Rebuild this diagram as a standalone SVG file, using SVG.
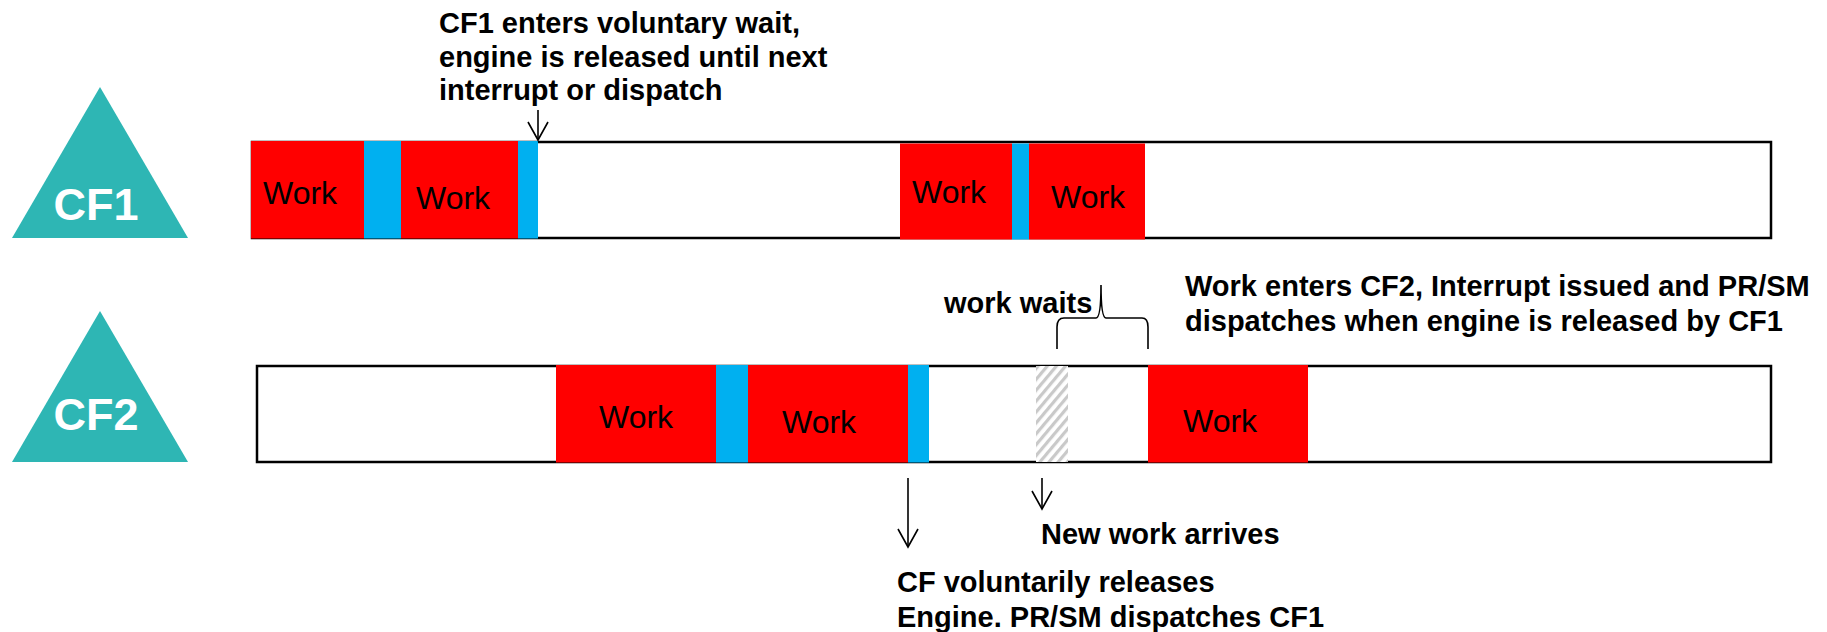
<svg xmlns="http://www.w3.org/2000/svg" width="1827" height="632" viewBox="0 0 1827 632">
  <style>
    .tri { fill: #2EB6B4; }
    .tri-label { font-family: "Liberation Sans", Arial, sans-serif; font-weight: bold; font-size: 45px; fill: #FFFFFF; text-anchor: middle; }
    .bar { fill: #FFFFFF; stroke: #000000; stroke-width: 2.5; }
    .work { fill: #FF0000; }
    .sys { fill: #00B0F0; }
    .wait { fill: url(#hatch); }
    .work-label { font-family: "Liberation Sans", Arial, sans-serif; font-size: 32px; fill: #000000; }
    .note { font-family: "Liberation Sans", Arial, sans-serif; font-weight: bold; font-size: 29px; fill: #000000; }
    .conn { fill: none; stroke: #000000; stroke-width: 1.6; }
    .arrow { marker-end: url(#vhead); }
  </style>
  <defs>
    <pattern id="hatch" patternUnits="userSpaceOnUse" width="7" height="7" patternTransform="rotate(40)">
      <rect x="0" y="0" width="7" height="7" fill="#FFFFFF"/>
      <rect x="0" y="0" width="3.2" height="7" fill="#C9C9C9"/>
    </pattern>
    <marker id="vhead" markerUnits="userSpaceOnUse" markerWidth="24" markerHeight="24" refX="0" refY="0" orient="auto" overflow="visible">
      <path d="M-18,-10 L0,0 L-18,10" fill="none" stroke="#000000" stroke-width="1.6"/>
    </marker>
  </defs>

  <rect x="0" y="0" width="1827" height="632" fill="#FFFFFF"/>

  <g id="cf1-node">
    <polygon class="tri" points="100,87 12,238 188,238"/>
    <text class="tri-label" x="96" y="220">CF1</text>
  </g>

  <g id="cf2-node">
    <polygon class="tri" points="100,311 12,462 188,462"/>
    <text class="tri-label" x="96" y="430">CF2</text>
  </g>

  <g id="cf1-timeline">
    <rect class="bar" x="252" y="142" width="1519" height="96"/>
    <rect class="work" x="251" y="141" width="113" height="97.5"/>
    <rect class="sys" x="364" y="141" width="37" height="97.5"/>
    <rect class="work" x="401" y="141" width="117" height="97.5"/>
    <rect class="sys" x="518" y="141" width="20" height="97.5"/>
    <text class="work-label" x="263" y="204">Work</text>
    <text class="work-label" x="416" y="209">Work</text>
    <rect class="work" x="900" y="143.5" width="112" height="96"/>
    <rect class="sys" x="1012" y="143.5" width="17" height="96"/>
    <rect class="work" x="1029" y="143.5" width="116" height="96"/>
    <text class="work-label" x="912" y="203">Work</text>
    <text class="work-label" x="1051" y="208">Work</text>
  </g>

  <g id="cf2-timeline">
    <rect class="bar" x="257" y="366" width="1514" height="96"/>
    <rect class="work" x="556" y="365" width="160" height="97.5"/>
    <rect class="sys" x="716" y="365" width="32" height="97.5"/>
    <rect class="work" x="748" y="365" width="160" height="97.5"/>
    <rect class="sys" x="908" y="365" width="21" height="97.5"/>
    <rect class="wait" x="1036" y="366" width="32" height="96"/>
    <rect class="work" x="1148" y="365" width="160" height="97.5"/>
    <text class="work-label" x="599" y="428">Work</text>
    <text class="work-label" x="782" y="433">Work</text>
    <text class="work-label" x="1183" y="432">Work</text>
  </g>

  <g id="connectors">
    <line class="conn arrow" x1="538" y1="110" x2="538" y2="140"/>
    <line class="conn arrow" x1="908" y1="478" x2="908" y2="547"/>
    <line class="conn arrow" x1="1042" y1="478" x2="1042" y2="509"/>
    <path class="conn" d="M1057,349 L1057,327 Q1057,318 1064,318 L1096,318 Q1101,318 1101,285 Q1101,318 1106,318 L1142,318 Q1148,318 1148,327 L1148,349"/>
  </g>

  <g id="labels">
    <text class="note" x="439" y="33">CF1 enters voluntary wait,</text>
    <text class="note" x="439" y="66.5">engine is released until next</text>
    <text class="note" x="439" y="100">interrupt or dispatch</text>
    <text class="note" x="944" y="312.5">work waits</text>
    <text class="note" x="1185" y="295.5">Work enters CF2, Interrupt issued and PR/SM</text>
    <text class="note" x="1185" y="330.5">dispatches when engine is released by CF1</text>
    <text class="note" x="1041" y="544">New work arrives</text>
    <text class="note" x="897" y="591.5">CF voluntarily releases</text>
    <text class="note" x="897" y="626.5">Engine. PR/SM dispatches CF1</text>
  </g>
</svg>
